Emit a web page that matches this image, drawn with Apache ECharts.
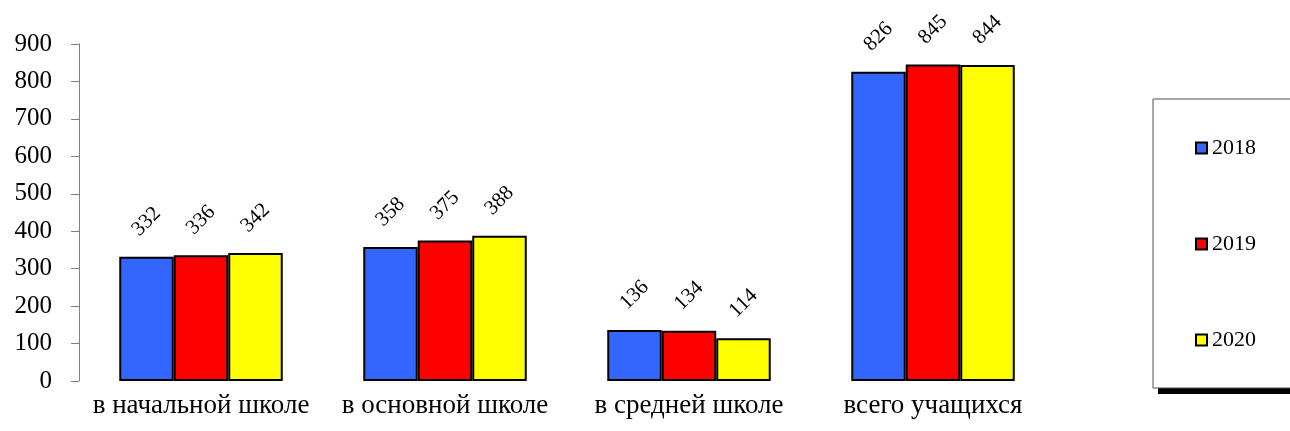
<!DOCTYPE html>
<html>
<head>
<meta charset="utf-8">
<script src="https://cdn.jsdelivr.net/npm/echarts@6/dist/echarts.min.js"></script>
<style>html,body{margin:0;padding:0;background:#fff;}#c{width:1290px;height:431px;}</style>
</head>
<body>
<div id="c"></div>
<script>
const categories = ['в начальной школе', 'в основной школе', 'в средней школе', 'всего учащихся'];
const seriesNames = ['2018', '2019', '2020'];
const values2018 = [332, 358, 136, 826];
const values2019 = [336, 375, 134, 845];
const values2020 = [342, 388, 114, 844];
const yTicks = [0, 100, 200, 300, 400, 500, 600, 700, 800, 900];
const colors = ['#3366FF', '#FF0000', '#FFFF00'];

const FONT = '"Liberation Serif", "Times New Roman", serif';
const chart = echarts.init(document.getElementById('c'), null, {renderer: 'canvas'});
const mk = (name, data, color) => ({
  name: name,
  type: 'bar',
  data: data,
  barGap: '0%',
  barCategoryGap: '33%',
  itemStyle: {color: color, borderColor: '#000', borderWidth: 2},
  label: {
    show: true,
    position: 'top',
    distance: 35,
    rotate: 45,
    align: 'center',
    verticalAlign: 'middle',
    color: '#000',
    fontFamily: FONT,
    fontSize: 21
  }
});
chart.setOption({
  animation: false,
  backgroundColor: '#fff',
  grid: {left: 79, right: 235, top: 44, bottom: 50, containLabel: false},
  graphic: [{
    type: 'rect',
    z: 0,
    silent: true,
    shape: {x: 1158, y: 106, width: 200, height: 288},
    style: {fill: '#000'}
  }],
  xAxis: {
    type: 'category',
    data: categories,
    axisLine: {show: false},
    axisTick: {show: false},
    axisLabel: {color: '#000', fontFamily: FONT, fontSize: 27, margin: 11, interval: 0}
  },
  yAxis: {
    type: 'value',
    min: yTicks[0],
    max: yTicks[yTicks.length - 1],
    interval: 100,
    splitLine: {show: false},
    axisLine: {show: true, lineStyle: {color: '#808080', width: 1}},
    axisTick: {show: true, length: 8, lineStyle: {color: '#808080'}},
    axisLabel: {color: '#000', fontFamily: FONT, fontSize: 25, margin: 27}
  },
  legend: {
    orient: 'vertical',
    left: 1153,
    top: 99,
    z: 10,
    padding: [38, 120, 37, 42],
    itemGap: 74,
    itemWidth: 11,
    itemHeight: 11,
    icon: 'rect',
    backgroundColor: '#fff',
    borderColor: '#505050',
    borderWidth: 1,
    textStyle: {color: '#000', fontFamily: FONT, fontSize: 22},
    itemStyle: {borderColor: '#000', borderWidth: 2},
    data: seriesNames
  },
  series: [
    mk(seriesNames[0], values2018, colors[0]),
    mk(seriesNames[1], values2019, colors[1]),
    mk(seriesNames[2], values2020, colors[2])
  ]
});
</script>
</body>
</html>
